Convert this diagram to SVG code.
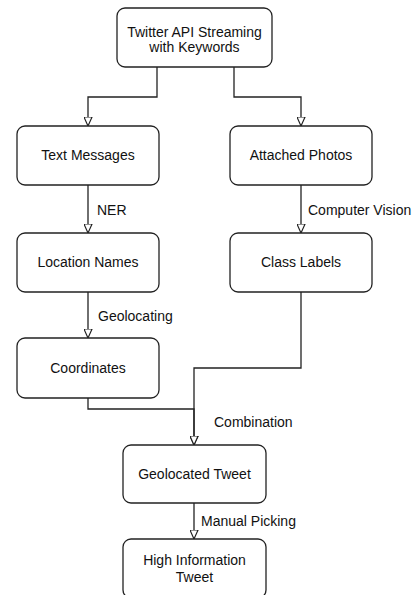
<svg xmlns="http://www.w3.org/2000/svg" width="413" height="595" viewBox="0 0 413 595">
<style>
.box{fill:#fff;stroke:#222;stroke-width:1.3}
.t{font-family:"Liberation Sans",Arial,sans-serif;font-size:14px;fill:#111;text-anchor:middle}
.l{font-family:"Liberation Sans",Arial,sans-serif;font-size:14px;fill:#111}
.c{fill:none;stroke:#222;stroke-width:1.3}
</style>
<defs>
<marker id="arr" viewBox="0 0 10 10" refX="10" refY="5" markerWidth="9" markerHeight="9" markerUnits="userSpaceOnUse" orient="auto">
<path d="M0,0.5 L10,5 L0,9.5 Z" fill="#fff" stroke="#222" stroke-width="1.3"/>
</marker>
</defs>
<rect width="413" height="595" fill="#fff"/>
<g id="connectors">
<path class="c" d="M157,67 V97 H88 V126" marker-end="url(#arr)"/>
<path class="c" d="M234,67 V97 H301 V126" marker-end="url(#arr)"/>
<path class="c" d="M88,185 V233" marker-end="url(#arr)"/>
<path class="c" d="M301,185 V233" marker-end="url(#arr)"/>
<path class="c" d="M88,292 V338" marker-end="url(#arr)"/>
<path class="c" d="M301,292 V368 H194 V445" marker-end="url(#arr)"/>
<path class="c" d="M88,398 V409 H194 V445" marker-end="url(#arr)"/>
<path class="c" d="M194,503 V539" marker-end="url(#arr)"/>
<text class="l" x="97" y="215">NER</text>
<text class="l" x="308" y="215">Computer Vision</text>
<text class="l" x="98" y="321">Geolocating</text>
<text class="l" x="214" y="427">Combination</text>
<text class="l" x="201" y="526">Manual Picking</text>
</g>
<g id="n1"><rect class="box" x="117" y="8" width="155" height="59" rx="8"/><text class="t" x="194.5" y="37">Twitter API Streaming</text><text class="t" x="194.5" y="52">with Keywords</text></g>
<g id="n2"><rect class="box" x="17" y="126" width="142" height="59" rx="8"/><text class="t" x="88" y="160">Text Messages</text></g>
<g id="n3"><rect class="box" x="230" y="126" width="142" height="59" rx="8"/><text class="t" x="301" y="160">Attached Photos</text></g>
<g id="n4"><rect class="box" x="17" y="233" width="142" height="59" rx="8"/><text class="t" x="88" y="267">Location Names</text></g>
<g id="n5"><rect class="box" x="230" y="233" width="142" height="59" rx="8"/><text class="t" x="301" y="267">Class Labels</text></g>
<g id="n6"><rect class="box" x="17" y="338" width="142" height="60" rx="8"/><text class="t" x="88" y="373">Coordinates</text></g>
<g id="n7"><rect class="box" x="123" y="445" width="143" height="58" rx="8"/><text class="t" x="194.5" y="479">Geolocated Tweet</text></g>
<g id="n8"><rect class="box" x="123" y="539" width="143" height="59" rx="8"/><text class="t" x="194.5" y="565">High Information</text><text class="t" x="194.5" y="582">Tweet</text></g>
</svg>
